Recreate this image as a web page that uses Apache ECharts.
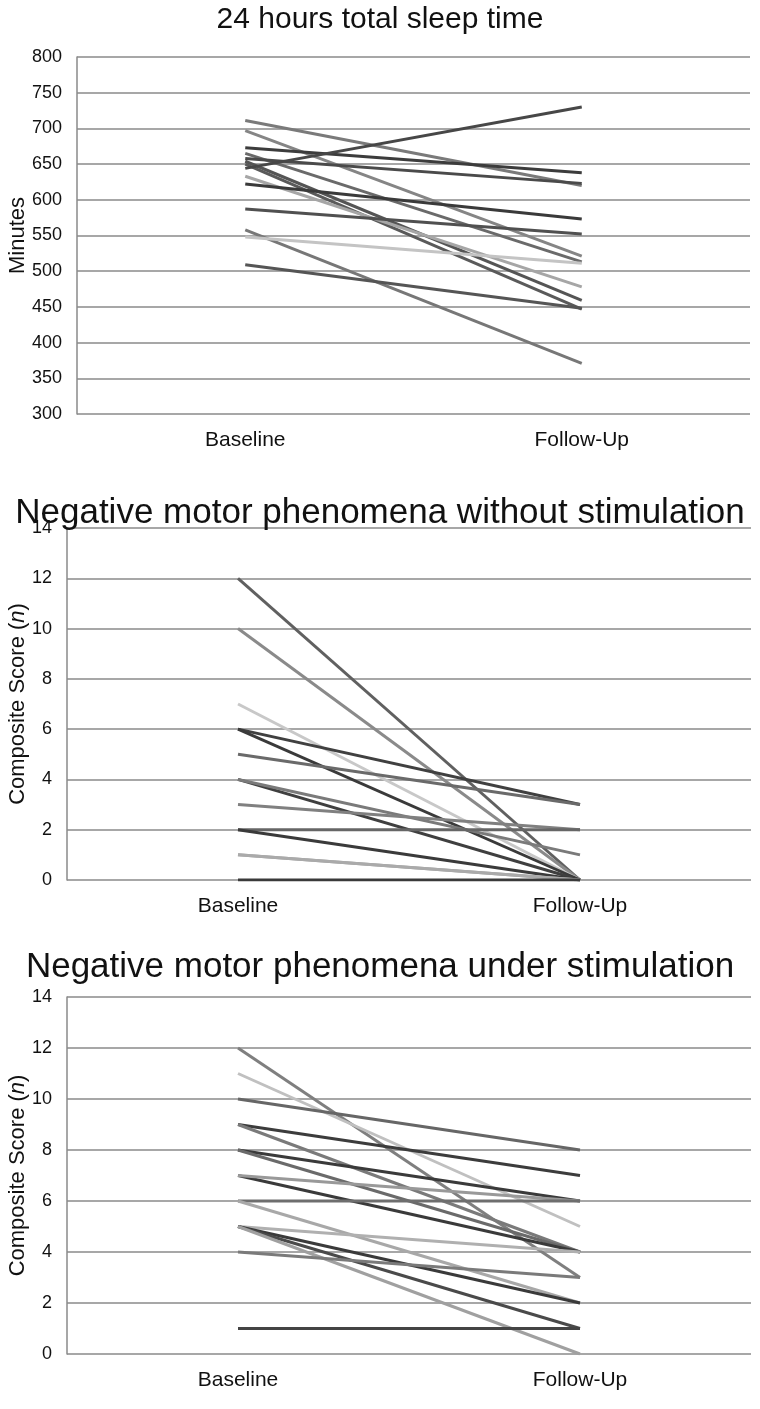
<!DOCTYPE html>
<html>
<head>
<meta charset="utf-8">
<style>
  html, body { margin: 0; padding: 0; background: #fff; }
  #chart { width: 760px; height: 1409px; }
</style>
<script src="https://cdn.jsdelivr.net/npm/echarts@6/dist/echarts.min.js"></script>
</head>
<body>
<div id="chart"></div>
<script>
// shared categories
const visits = ['Baseline', 'Follow-Up'];

// panel 1: 24 h total sleep time, [baseline, follow-up] minutes per patient
const sleepPairs = [
  [711, 620], [697, 521], [673, 638], [665, 513], [658, 623], [654, 459], [650, 447],
  [644, 730], [633, 478], [622, 573], [587, 552], [558, 371], [548, 511], [509, 448]
];
const sleepColors = [
  '#7a7a7a', '#858585', '#3c3c3c', '#6a6a6a', '#4a4a4a', '#555555', '#5a5a5a',
  '#474747', '#a6a6a6', '#3a3a3a', '#505050', '#777777', '#c4c4c4', '#555555'
];

// panel 2: negative motor phenomena without stimulation
const noStimPairs = [
  [12, 0], [10, 0], [7, 0], [6, 3], [6, 0], [5, 3], [4, 0],
  [4, 1], [3, 2], [2, 2], [2, 0], [1, 0], [1, 0], [0, 0]
];
const noStimColors = [
  '#606060', '#8a8a8a', '#c8c8c8', '#404040', '#3a3a3a', '#6a6a6a', '#3f3f3f',
  '#7a7a7a', '#808080', '#666666', '#3a3a3a', '#a5a5a5', '#aaaaaa', '#3a3a3a'
];

// panel 3: negative motor phenomena under stimulation
const stimPairs = [
  [12, 3], [11, 5], [10, 8], [9, 7], [9, 4], [8, 6], [8, 4], [7, 4], [7, 6],
  [6, 6], [6, 2], [5, 4], [5, 2], [5, 1], [5, 0], [4, 3], [1, 1]
];
const stimColors = [
  '#7f7f7f', '#c0c0c0', '#666666', '#3c3c3c', '#7a7a7a', '#3a3a3a', '#6a6a6a', '#3a3a3a', '#999999',
  '#6e6e6e', '#a8a8a8', '#b0b0b0', '#3a3a3a', '#4a4a4a', '#a0a0a0', '#7a7a7a', '#444444'
];

const titles = [
  '24 hours total sleep time',
  'Negative motor phenomena without stimulation',
  'Negative motor phenomena under stimulation'
];

const font = 'Liberation Sans, Arial, Helvetica, sans-serif';
const gridColor = '#8a8a8a';

const chart = echarts.init(document.getElementById('chart'));

const grids = [
  { left: 77, right: 10, top: 57, height: 357, outerBoundsMode: 'none' },
  { left: 67, right: 9, top: 528, height: 352, outerBoundsMode: 'none' },
  { left: 67, right: 9, top: 997, height: 357, outerBoundsMode: 'none' }
];

const xAxes = grids.map((g, i) => ({
  type: 'category',
  gridIndex: i,
  data: visits,
  axisLine: { show: false },
  axisTick: { show: false },
  axisLabel: { color: '#111', fontSize: 21, fontFamily: font, margin: 16 }
}));

const yCommon = {
  type: 'value',
  nameLocation: 'middle',
  nameMoveOverlap: false,
  axisLine: { show: true, lineStyle: { color: gridColor, width: 1.5 } },
  axisTick: { show: false },
  splitLine: { show: true, lineStyle: { color: gridColor, width: 1.5 } },
  axisLabel: { color: '#111', fontSize: 18, fontFamily: font, margin: 15 }
};

const nameStyle = {
  color: '#111', fontSize: 22, fontFamily: font,
  rich: { i: { fontStyle: 'italic', fontSize: 22, fontFamily: font, color: '#111' } }
};

const yAxes = [
  Object.assign({}, yCommon, {
    gridIndex: 0, min: 300, max: 800, interval: 50,
    name: 'Minutes', nameGap: 48,
    nameTextStyle: { color: '#111', fontSize: 22, fontFamily: font }
  }),
  Object.assign({}, yCommon, {
    gridIndex: 1, min: 0, max: 14, interval: 2,
    name: 'Composite Score ({i|n})', nameGap: 38,
    nameTextStyle: nameStyle
  }),
  Object.assign({}, yCommon, {
    gridIndex: 2, min: 0, max: 14, interval: 2,
    name: 'Composite Score ({i|n})', nameGap: 38,
    nameTextStyle: nameStyle
  })
];

function makeSeries(pairs, colors, idx) {
  return pairs.map((p, k) => ({
    type: 'line',
    xAxisIndex: idx,
    yAxisIndex: idx,
    data: p,
    symbol: 'none',
    silent: true,
    lineStyle: { color: colors[k], width: 3 }
  }));
}

const series = [].concat(
  makeSeries(sleepPairs, sleepColors, 0),
  makeSeries(noStimPairs, noStimColors, 1),
  makeSeries(stimPairs, stimColors, 2)
);

const titleStyle = size => ({ fontSize: size, fontWeight: 'normal', color: '#111', fontFamily: font });

chart.setOption({
  animation: false,
  title: [
    { text: titles[0], left: 'center', top: 0, textStyle: titleStyle(30) },
    { text: titles[1], left: 'center', top: 491, textStyle: titleStyle(35) },
    { text: titles[2], left: 'center', top: 945, textStyle: titleStyle(35) }
  ],
  grid: grids,
  xAxis: xAxes,
  yAxis: yAxes,
  series: series
});
</script>
</body>
</html>
